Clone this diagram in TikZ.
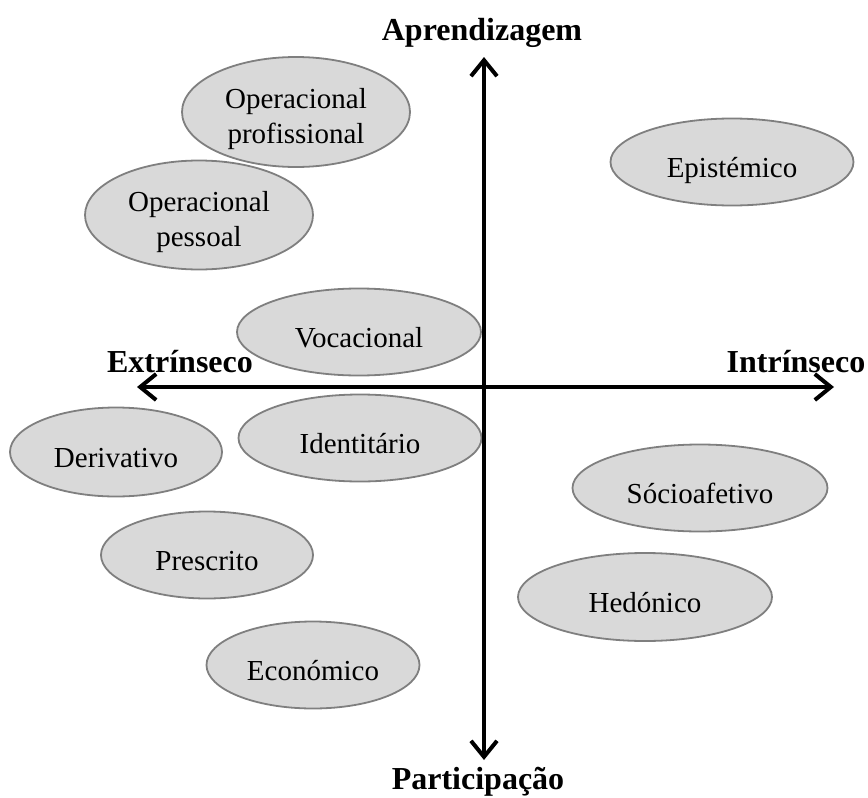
\documentclass[tikz,border=0pt]{standalone}
\usepackage{fontspec}
\setmainfont{Liberation Serif}
\usepackage{xcolor}
\usepackage{tikz}
\usetikzlibrary{shapes.geometric,arrows.meta}

\definecolor{cinzaclaro}{HTML}{D9D9D9}
\definecolor{borda}{HTML}{7F7F7F}

\tikzset{
  motivo/.style={ellipse, draw=borda, fill=cinzaclaro, line width=1.8pt, inner sep=0pt,
    align=center, font=\fontsize{29pt}{35pt}\selectfont},
  linha/.style={text height=30pt, text depth=0pt},
  duas/.style={text height=62pt, text depth=0pt},
  eixo/.style={line width=4pt, {Straight Barb[length=16pt,width=26pt]}-{Straight Barb[length=16pt,width=26pt]}},
  titulo/.style={font=\fontsize{32pt}{36pt}\selectfont\bfseries, inner sep=0pt, anchor=base}
}

\begin{document}
\begin{tikzpicture}[x=1pt,y=-1pt]
        \useasboundingbox (0,0) rectangle (868,798);

        % Motives (upper left)
        \node[motivo, duas, minimum width=228pt, minimum height=110pt] (opprof) at (296,112) {Operacional\\profissional};
        \node[motivo, duas, minimum width=228pt, minimum height=109pt] (oppes) at (199,215) {Operacional\\pessoal};
        \node[motivo, linha, minimum width=244pt, minimum height=87pt] (vocac) at (359,332) {Vocacional};

        % Motives (upper right)
        \node[motivo, linha, minimum width=243pt, minimum height=87pt] (epist) at (732,162) {Epistémico};

        % Motives (lower left)
        \node[motivo, linha, minimum width=243pt, minimum height=87pt] (ident) at (360,438) {Identitário};
        \node[motivo, linha, minimum width=212pt, minimum height=89pt] (deriv) at (116,452) {Derivativo};
        \node[motivo, linha, minimum width=212pt, minimum height=87pt] (prescr) at (207,555) {Prescrito};
        \node[motivo, linha, minimum width=213pt, minimum height=87pt] (econ) at (313,665) {Económico};

        % Motives (lower right)
        \node[motivo, linha, minimum width=255pt, minimum height=87pt] (socio) at (700,488) {Sócioafetivo};
        \node[motivo, linha, minimum width=254pt, minimum height=88pt] (hedon) at (645,597) {Hedónico};

        % Axes
        \coordinate (esq) at (137,387);
        \coordinate (dir) at (834,387);
        \coordinate (cima) at (484,57);
        \coordinate (baixo) at (484,760);
        \draw[eixo] (esq) -- (dir);
        \draw[eixo] (cima) -- (baixo);

        % Axis labels
        \node[titulo] (aprend) at (482,40) {Aprendizagem};
        \node[titulo] (partic) at (478,789) {Participação};
        \node[titulo] (extr) at (180,372) {Extrínseco};
        \node[titulo] (intr) at (796,372) {Intrínseco};
      \end{tikzpicture}
\end{document}
